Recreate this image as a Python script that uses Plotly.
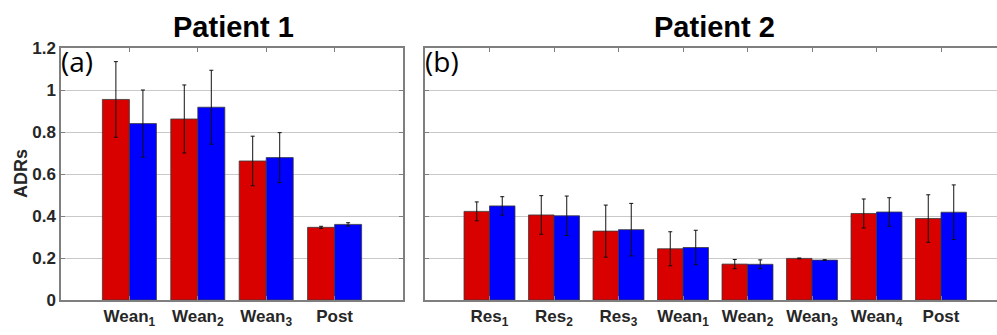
import plotly.graph_objects as go
from plotly.subplots import make_subplots

# Patient 1 phases and ADR means / standard deviations
p1_labels = ["Wean<sub>1</sub>", "Wean<sub>2</sub>", "Wean<sub>3</sub>", "Post"]
p1_red = [0.955, 0.862, 0.662, 0.346]
p1_red_err = [0.180, 0.162, 0.118, 0.005]
p1_blue = [0.840, 0.918, 0.678, 0.360]
p1_blue_err = [0.160, 0.176, 0.119, 0.008]

# Patient 2 phases and ADR means / standard deviations
p2_labels = ["Res<sub>1</sub>", "Res<sub>2</sub>", "Res<sub>3</sub>", "Wean<sub>1</sub>",
             "Wean<sub>2</sub>", "Wean<sub>3</sub>", "Wean<sub>4</sub>", "Post"]
p2_red = [0.422, 0.405, 0.328, 0.244, 0.171, 0.198, 0.412, 0.388]
p2_red_err = [0.045, 0.092, 0.124, 0.081, 0.022, 0.002, 0.069, 0.113]
p2_blue = [0.448, 0.401, 0.335, 0.250, 0.170, 0.190, 0.419, 0.418]
p2_blue_err = [0.044, 0.094, 0.125, 0.082, 0.021, 0.002, 0.068, 0.130]

y_ticks = [0, 0.2, 0.4, 0.6, 0.8, 1.0, 1.2]
y_ticktext = ["0", "0.2", "0.4", "0.6", "0.8", "1", "1.2"]

RED = "#D90000"
BLUE = "#0000FF"
EDGE = "#3a3a3a"
AXIS = "#7f7f7f"
GRID = "#c9c9c9"
TXT = "#262626"
FONT = "Liberation Sans"

W, H = 997, 335
fig = make_subplots(rows=1, cols=2)


def add_pair(col, labels, red, red_err, blue, blue_err):
    xs = list(range(1, len(labels) + 1))
    for vals, errs, color in ((red, red_err, RED), (blue, blue_err, BLUE)):
        fig.add_trace(
            go.Bar(
                x=xs, y=vals,
                marker=dict(color=color, line=dict(color=EDGE, width=0.8)),
                error_y=dict(type="data", array=errs, visible=True,
                             color="#111111", thickness=1, width=2),
                showlegend=False,
                hoverinfo="y",
            ),
            row=1, col=col,
        )
    return xs


xs1 = add_pair(1, p1_labels, p1_red, p1_red_err, p1_blue, p1_blue_err)
xs2 = add_pair(2, p2_labels, p2_red, p2_red_err, p2_blue, p2_blue_err)

left_x0, left_x1 = 61 / W, 403 / W
right_x0 = 425 / W

xcommon = dict(
    showline=True, linecolor=AXIS, linewidth=1.5, mirror="ticks",
    ticks="inside", ticklen=4, tickcolor=AXIS, tickwidth=1.2,
    showgrid=False, zeroline=False,
    tickfont=dict(family=FONT, size=17, color=TXT, weight="bold"),
)
ycommon = dict(
    range=[0, 1.2], tickvals=y_ticks,
    showgrid=True, gridcolor=GRID, gridwidth=1.2,
    ticks="inside", ticklen=4, tickcolor=AXIS, tickwidth=1.2,
    showline=True, linecolor=AXIS, linewidth=1.5, zeroline=False,
    tickfont=dict(family=FONT, size=17, color=TXT, weight="bold"),
)

fig.update_xaxes(domain=[left_x0, left_x1], range=[0, 5], tickvals=xs1,
                 ticktext=p1_labels, row=1, col=1, **xcommon)
fig.update_xaxes(domain=[right_x0, 1.0], range=[0, (W - 425) / 64.5],
                 tickvals=xs2, ticktext=p2_labels, row=1, col=2, **xcommon)
fig.update_yaxes(ticktext=y_ticktext, mirror="ticks", row=1, col=1, **ycommon)
fig.update_yaxes(showticklabels=False, mirror=False, row=1, col=2, **ycommon)

annotations = [
    dict(text="<b>Patient 1</b>", x=233 / W, y=1, xref="paper", yref="paper",
         yshift=3, yanchor="bottom", xanchor="center", showarrow=False,
         font=dict(family=FONT, size=29, color="#000000")),
    dict(text="<b>Patient 2</b>", x=714 / W, y=1, xref="paper", yref="paper",
         yshift=3, yanchor="bottom", xanchor="center", showarrow=False,
         font=dict(family=FONT, size=29, color="#000000")),
    dict(text="(a)", x=left_x0, y=1, xref="paper", yref="paper",
         xanchor="left", yanchor="top", xshift=-2, yshift=8, showarrow=False,
         font=dict(family="Open Sans", size=28, color="#000000")),
    dict(text="(b)", x=right_x0, y=1, xref="paper", yref="paper",
         xanchor="left", yanchor="top", xshift=-2, yshift=8, showarrow=False,
         font=dict(family="Open Sans", size=28, color="#000000")),
    dict(text="<b>ADRs</b>", x=21 / W, y=0.5, xref="paper", yref="paper",
         textangle=-90, xanchor="center", yanchor="middle", showarrow=False,
         font=dict(family=FONT, size=18, color=TXT)),
]

fig.update_layout(
    width=W, height=H,
    margin=dict(l=0, r=0, t=48, b=35),
    paper_bgcolor="white", plot_bgcolor="white",
    barmode="group", bargap=0.21, bargroupgap=0,
    annotations=annotations,
)

fig.write_html("out.html")
